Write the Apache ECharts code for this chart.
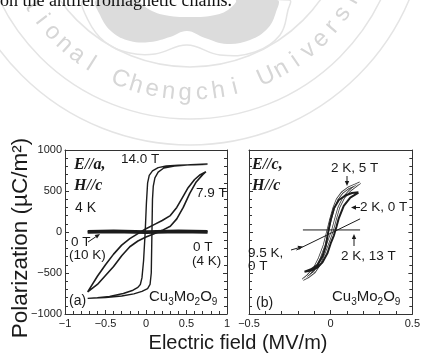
<!DOCTYPE html>
<html>
<head>
<meta charset="utf-8">
<script src="https://cdn.jsdelivr.net/npm/echarts@6/dist/echarts.min.js"></script>
<style>
html, body { margin: 0; padding: 0; background: #fff; }
#chart { width: 423px; height: 355px; }
</style>
</head>
<body>
<div id="chart"></div>
<script>
// ---- panel (a): E//a, H//c, 4 K ----
var e14Down = [0.76, 0.6, 0.4, 0.25, 0.15, 0.08, 0.04, 0.02, 0.005, -0.01, -0.03, -0.05, -0.07, -0.1, -0.16, -0.28, -0.45, -0.6, -0.72];
var p14Down = [825, 820, 815, 805, 785, 745, 690, 600, 350, 0, -350, -560, -640, -675, -710, -750, -785, -800, -810];
var e14Up = [-0.72, -0.5, -0.3, -0.15, -0.05, 0.02, 0.05, 0.065, 0.07, 0.075, 0.08, 0.09, 0.11, 0.15, 0.22, 0.35, 0.55, 0.76];
var p14Up = [-810, -800, -780, -755, -725, -690, -640, -500, -200, 100, 400, 560, 660, 730, 780, 805, 820, 830];

var e79Down = [0.74, 0.67, 0.6, 0.52, 0.45, 0.38, 0.3, 0.2, 0.1, 0.0, -0.1, -0.2, -0.3, -0.4, -0.5, -0.6, -0.72];
var p79Down = [735, 700, 640, 540, 420, 300, 200, 140, 90, 40, -20, -80, -160, -270, -400, -540, -730];
var e79Up = [-0.72, -0.6, -0.5, -0.4, -0.3, -0.2, -0.1, 0.0, 0.1, 0.2, 0.3, 0.38, 0.46, 0.54, 0.62, 0.7, 0.74];
var p79Up = [-730, -640, -530, -420, -290, -180, -110, -60, -20, 20, 70, 160, 300, 470, 610, 700, 735];

var eZero10K = [-0.72, -0.4, 0, 0.4, 0.76];
var pZero10K = [10, 15, 5, 15, 10];
var eZero4K = [-0.72, -0.4, 0, 0.4, 0.76];
var pZero4K = [-5, 0, -10, 0, -5];

// ---- panel (b): E//c, H//c ----
var e0TDown = [0.17, 0.13, 0.09, 0.05, 0.02, 0.0, -0.015, -0.03, -0.05, -0.08, -0.12, -0.16];
var p0TDown = [485, 475, 445, 390, 290, 150, 0, -170, -300, -400, -455, -485];
var e0TUp = [-0.16, -0.12, -0.08, -0.05, -0.02, 0.0, 0.02, 0.035, 0.05, 0.08, 0.12, 0.17];
var p0TUp = [-485, -470, -430, -370, -260, -140, -40, 60, 170, 320, 420, 480];

var e5TDown = [0.18, 0.15, 0.11, 0.07, 0.04, 0.02, 0.0, -0.02, -0.04, -0.07, -0.1, -0.14, -0.17];
var p5TDown = [600, 575, 540, 480, 400, 300, 160, 0, -160, -320, -440, -530, -580];
var e5TUp = [-0.17, -0.14, -0.1, -0.07, -0.04, -0.01, 0.01, 0.03, 0.05, 0.08, 0.12, 0.16, 0.18];
var p5TUp = [-580, -550, -490, -400, -260, -100, 10, 160, 300, 420, 510, 570, 600];

var e13T = [-0.17, 0.18];
var p13T = [25, 25];
var e95K = [-0.21, 0.18];
var p95K = [-220, 160];

function pts(ex, py) {
	return ex.map(function(e, i) { return [e, py[i]]; });
}
function loop(ed, pd, eu, pu) {
	return pts(ed, pd).concat(pts(eu, pu));
}

var ink = '#1c1c1c';
var sans = '"Liberation Sans", Arial, sans-serif';
var serif = '"Liberation Serif", "Times New Roman", serif';

function xAx(grid, min, max, pos, labels) {
	return {
		type: 'value', gridIndex: grid, min: min, max: max, interval: 0.5, position: pos,
		axisLine: {show: true, onZero: false, lineStyle: {color: '#333', width: 1}},
		axisTick: {show: pos === 'bottom', inside: true, length: 4, lineStyle: {color: '#333'}},
		minorTick: {show: pos === 'bottom', splitNumber: 5, length: 3, lineStyle: {color: '#333'}},
		splitLine: {show: false},
		axisLabel: {
			show: labels, fontSize: 11, color: '#222', fontFamily: sans, margin: 4,
			formatter: function(v) { return v === 0 ? '0' : (v < 0 ? '−' : '') + Math.abs(v); }
		}
	};
}
function yAx(grid, pos, labels) {
	return {
		type: 'value', gridIndex: grid, min: -1000, max: 1000, interval: 500, position: pos,
		axisLine: {show: true, onZero: false, lineStyle: {color: '#333', width: 1}},
		axisTick: {show: true, inside: true, length: 4, lineStyle: {color: '#333'}},
		minorTick: {show: true, splitNumber: 5, length: 3, lineStyle: {color: '#333'}},
		splitLine: {show: false},
		axisLabel: {
			show: labels, fontSize: 11, color: '#222', fontFamily: sans, margin: 3,
			formatter: function(v) { return v < 0 ? '−' + Math.abs(v) : String(v); }
		}
	};
}

function line(data, xi, width, color, z) {
	return {
		type: 'line', data: data, xAxisIndex: xi, yAxisIndex: xi, showSymbol: false,
		lineStyle: {color: color || ink, width: width}, z: z || 2, silent: true
	};
}

function txt(x, y, s, size, extra) {
	var st = {text: s, x: 0, y: 0, font: size + 'px ' + sans, fill: '#1a1a1a', verticalAlign: 'middle', align: 'left'};
	if (extra) { for (var k in extra) st[k] = extra[k]; }
	return {type: 'text', x: x, y: y, style: st, z: 20};
}
function arrow(x1, y1, x2, y2) {
	var dx = x2 - x1, dy = y2 - y1, l = Math.sqrt(dx * dx + dy * dy);
	var ux = dx / l, uy = dy / l, h = 5, w = 2.2;
	var bx = x2 - ux * h, by = y2 - uy * h;
	return {
		type: 'group', z: 20, children: [
			{type: 'line', shape: {x1: x1, y1: y1, x2: bx, y2: by}, style: {stroke: '#1a1a1a', lineWidth: 1}},
			{type: 'polygon', shape: {points: [[x2, y2], [bx - uy * w, by + ux * w], [bx + uy * w, by - ux * w]]}, style: {fill: '#1a1a1a'}}
		]
	};
}
function formula(x, y) {
	return {
		type: 'text', x: x, y: y, z: 20,
		style: {
			text: '{n|Cu}{s|3}{n|Mo}{s|2}{n|O}{s|9}',
			verticalAlign: 'middle',
			rich: {
				n: {fontSize: 15, fontFamily: sans, fill: '#1a1a1a'},
				s: {fontSize: 10, fontFamily: sans, fill: '#1a1a1a', padding: [10, 0, 0, 0]}
			}
		}
	};
}

// watermark (seal) behind the figure
var wm = [];
var wcx = 190, wcy = -93;
[160, 212, 238].forEach(function(r) {
	wm.push({type: 'circle', shape: {cx: wcx, cy: wcy, r: r}, style: {fill: 'none', stroke: '#e4e4e4', lineWidth: 1.5}, z: -5});
});
wm.push({type: 'polygon', z: -5, shape: {smooth: 0.4, points: [[85, 0], [88, 20], [105, 42], [130, 53], [155, 54], [187, 45], [220, 55], [255, 52], [280, 35], [288, 10], [289, 0]]}, style: {fill: 'none', stroke: '#e4e4e4', lineWidth: 1.5}});
wm.push({type: 'polygon', z: -5, shape: {smooth: 0.4, points: [[97, 0], [100, 15], [112, 32], [130, 41], [150, 42], [170, 37], [187, 31], [205, 38], [227, 44], [250, 40], [268, 28], [276, 12], [277, 0]]}, style: {fill: '#dcdcdc'}});
wm.push({type: 'polygon', z: -4, shape: {smooth: 0.4, points: [[140, 0], [150, 10], [170, 16], [190, 17], [210, 16], [228, 10], [235, 0]]}, style: {fill: '#fff'}});
var seal = 'National Chengchi University';
for (var i = 0; i < seal.length; i++) {
	var ang = 112 + (9 - i) * 5.13;
	var rad = ang * Math.PI / 180;
	wm.push({
		type: 'text', z: -5,
		x: wcx + 186 * Math.cos(rad), y: wcy + 186 * Math.sin(rad),
		rotation: (90 - ang) * Math.PI / 180,
		style: {text: seal[i], font: '24px ' + sans, fill: '#d6d6d6', align: 'center', verticalAlign: 'middle'}
	});
}

var labels = [
	{type: 'text', x: 0, y: -8, z: 20, style: {text: 'on the antiferromagnetic chains.', font: '18px ' + serif, fill: '#111'}},
	// axis names
	{type: 'text', x: 21, y: 238, rotation: Math.PI / 2, z: 20, style: {text: 'Polarization (µC/m²)', font: '22.5px ' + sans, fill: '#1a1a1a', align: 'center', verticalAlign: 'middle'}},
	txt(238, 343, 'Electric field (MV/m)', 20, {align: 'center'}),
	// panel (a)
	txt(74, 165, 'E//a,', 16, {font: 'italic bold 16px ' + serif}),
	txt(74, 186, 'H//c', 16, {font: 'italic bold 16px ' + serif}),
	txt(75, 208, '4 K', 14),
	txt(121, 159, '14.0 T', 13.5),
	txt(196, 193, '7.9 T', 13.5),
	txt(71, 242, '0 T', 13.5),
	txt(69, 255, '(10 K)', 13.5),
	txt(193, 247, '0 T', 13.5),
	txt(192, 261, '(4 K)', 13.5),
	txt(69, 301, '(a)', 14),
	formula(149, 297),
	arrow(88, 242, 100, 234),
	// panel (b)
	txt(252, 165, 'E//c,', 16, {font: 'italic bold 16px ' + serif}),
	txt(252, 186, 'H//c', 16, {font: 'italic bold 16px ' + serif}),
	txt(331, 168, '2 K, 5 T', 13.5),
	arrow(347, 176, 347, 186),
	txt(360, 207.5, '2 K, 0 T', 13.5),
	arrow(360, 207.5, 351, 207.5),
	txt(248, 253, '9.5 K,', 13.5),
	txt(248, 266, '0 T', 13.5),
	arrow(291, 250, 303, 246.5),
	txt(341, 256, '2 K, 13 T', 13.5),
	arrow(354, 246, 354, 234),
	txt(256, 303, '(b)', 14),
	formula(332, 297)
];

var chart = echarts.init(document.getElementById('chart'));
chart.setOption({
	animation: false,
	backgroundColor: '#fff',
	grid: [
		{left: 65, top: 150, width: 162, height: 164},
		{left: 249, top: 150, width: 165, height: 164}
	],
	xAxis: [xAx(0, -1, 1, 'bottom', true), xAx(1, -0.5, 0.5, 'bottom', true), xAx(0, -1, 1, 'top', false), xAx(1, -0.5, 0.5, 'top', false)],
	yAxis: [yAx(0, 'left', true), yAx(1, 'left', false), yAx(0, 'right', false), yAx(1, 'right', false)],
	series: [
		line(pts(eZero10K, pZero10K), 0, 2.6),
		line(pts(eZero4K, pZero4K), 0, 2.6),
		line(loop(e14Down, p14Down, e14Up, p14Up), 0, 1.4),
		line(loop(e79Down, p79Down, e79Up, p79Up), 0, 1.6),
		line(loop(e5TDown, p5TDown, e5TUp, p5TUp), 1, 2.6, '#444', 2),
		line(loop(e5TDown, p5TDown, e5TUp, p5TUp), 1, 1.0, '#fff', 3),
		line(loop(e0TDown, p0TDown, e0TUp, p0TUp), 1, 2, ink, 4),
		line(pts(e13T, p13T), 1, 1, ink, 5),
		line(pts(e95K, p95K), 1, 1, ink, 5)
	],
	graphic: wm.concat(labels)
});
</script>
</body>
</html>
